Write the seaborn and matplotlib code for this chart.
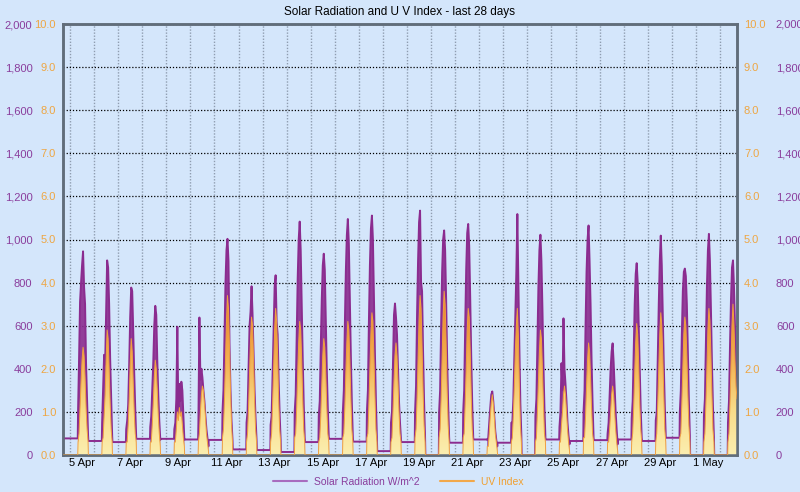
import numpy as np
import pandas as pd
import matplotlib
matplotlib.use("Agg")
import matplotlib.pyplot as plt
import matplotlib.dates as mdates
from matplotlib.colors import LinearSegmentedColormap
from matplotlib.lines import Line2D
from matplotlib.ticker import FixedLocator, FuncFormatter
import seaborn as sns

# first day with a full daylight block, one block per day (hours 08:00 .. 18:00)
first_day = "2025-04-05"
day_hours = [8, 9, 10, 11, 12, 13, 14, 15, 16, 17, 18]

# solar radiation W/m^2 per day
solar_day = [
    [200, 440, 710, 800, 880, 945, 780, 700, 420, 250, 90],
    [150, 300, 465, 420, 650, 903, 870, 700, 450, 260, 90],
    [120, 160, 234, 420, 640, 777, 760, 580, 380, 220, 80],
    [130, 180, 300, 430, 600, 692, 650, 440, 280, 160, 70],
    [120, 150, 260, 595, 200, 330, 250, 340, 300, 180, 70],
    [150, 638, 350, 400, 360, 300, 250, 180, 120, 80, 40],
    [200, 300, 550, 800, 950, 1003, 900, 518, 300, 160, 70],
    [150, 200, 400, 600, 665, 783, 650, 480, 300, 170, 70],
    [140, 180, 380, 600, 780, 834, 618, 560, 350, 190, 70],
    [200, 280, 560, 820, 1000, 1083, 950, 700, 450, 240, 80],
    [180, 250, 500, 720, 880, 934, 860, 620, 400, 220, 80],
    [200, 300, 600, 850, 1020, 1095, 980, 720, 460, 240, 80],
    [200, 300, 620, 880, 1050, 1111, 1000, 740, 470, 250, 80],
    [150, 200, 420, 650, 703, 640, 560, 400, 250, 150, 70],
    [200, 320, 650, 900, 1080, 1134, 803, 760, 480, 250, 80],
    [200, 300, 600, 850, 1000, 1042, 950, 720, 450, 240, 80],
    [200, 300, 600, 860, 1030, 1072, 970, 730, 460, 240, 80],
    [70, 80, 150, 220, 280, 295, 250, 180, 110, 70, 40],
    [150, 150, 257, 450, 626, 850, 1118, 800, 500, 240, 90],
    [180, 260, 520, 780, 950, 1022, 900, 680, 420, 220, 80],
    [130, 200, 426, 300, 634, 400, 330, 250, 150, 90, 50],
    [200, 300, 600, 850, 1000, 1065, 900, 700, 440, 240, 80],
    [100, 150, 280, 400, 480, 518, 430, 320, 200, 120, 50],
    [170, 250, 480, 700, 840, 890, 800, 600, 380, 210, 80],
    [160, 200, 450, 700, 900, 1018, 880, 650, 420, 230, 80],
    [200, 300, 560, 760, 850, 865, 830, 700, 480, 260, 90],
    [180, 260, 520, 780, 950, 1026, 900, 680, 430, 230, 80],
    [150, 250, 500, 720, 870, 903, 780, 600, 400, 255],
]

# UV index per day, same hours
uv_day = [
    [0.3, 0.5, 1.1, 1.7, 2.2, 2.5, 2.3, 1.8, 1.1, 0.6, 0.3],
    [0.3, 0.4, 0.9, 1.4, 2.2, 2.9, 2.7, 2.0, 1.2, 0.6, 0.3],
    [0.3, 0.3, 0.7, 1.3, 2.1, 2.7, 2.4, 1.7, 1.0, 0.5, 0.3],
    [0.3, 0.3, 0.7, 1.2, 1.8, 2.2, 2.0, 1.5, 0.9, 0.5, 0.2],
    [0.3, 0.3, 0.6, 1.0, 0.8, 1.1, 0.9, 1.0, 0.7, 0.4, 0.2],
    [0.3, 0.5, 1.0, 1.4, 1.6, 1.5, 1.2, 0.9, 0.5, 0.3, 0.1],
    [0.4, 0.6, 1.3, 2.2, 3.1, 3.7, 3.4, 2.5, 1.5, 0.7, 0.3],
    [0.3, 0.5, 1.1, 1.9, 2.7, 3.2, 3.0, 2.2, 1.3, 0.6, 0.3],
    [0.3, 0.5, 1.2, 2.0, 2.9, 3.4, 3.1, 2.3, 1.3, 0.6, 0.3],
    [0.4, 0.5, 1.1, 1.9, 2.6, 3.1, 2.9, 2.2, 1.3, 0.6, 0.3],
    [0.3, 0.4, 0.9, 1.6, 2.3, 2.7, 2.5, 1.9, 1.1, 0.5, 0.3],
    [0.4, 0.5, 1.1, 1.9, 2.6, 3.1, 2.9, 2.2, 1.3, 0.6, 0.3],
    [0.4, 0.5, 1.2, 2.0, 2.8, 3.3, 3.1, 2.3, 1.4, 0.6, 0.3],
    [0.3, 0.4, 1.0, 1.7, 2.3, 2.6, 2.3, 1.7, 1.0, 0.5, 0.3],
    [0.4, 0.6, 1.3, 2.2, 3.1, 3.7, 3.4, 2.5, 1.5, 0.7, 0.3],
    [0.4, 0.6, 1.3, 2.3, 3.2, 3.8, 3.5, 2.6, 1.5, 0.7, 0.3],
    [0.4, 0.5, 1.2, 2.0, 2.9, 3.4, 3.2, 2.4, 1.4, 0.6, 0.3],
    [0.2, 0.2, 0.5, 0.9, 1.2, 1.4, 1.2, 0.9, 0.5, 0.3, 0.1],
    [0.3, 0.4, 0.9, 1.6, 2.4, 3.0, 3.4, 2.8, 1.6, 0.7, 0.3],
    [0.3, 0.4, 1.0, 1.7, 2.4, 2.9, 2.7, 2.0, 1.2, 0.5, 0.3],
    [0.3, 0.3, 0.7, 1.0, 1.4, 1.6, 1.4, 1.0, 0.6, 0.3, 0.1],
    [0.4, 0.4, 0.9, 1.6, 2.2, 2.6, 2.4, 1.8, 1.1, 0.5, 0.3],
    [0.3, 0.3, 0.6, 1.0, 1.4, 1.6, 1.4, 1.0, 0.6, 0.3, 0.1],
    [0.3, 0.5, 1.1, 1.9, 2.6, 3.05, 2.8, 2.1, 1.2, 0.6, 0.3],
    [0.3, 0.5, 1.2, 2.0, 2.8, 3.3, 3.0, 2.3, 1.4, 0.6, 0.3],
    [0.4, 0.5, 1.2, 2.0, 2.8, 3.2, 3.0, 2.3, 1.4, 0.7, 0.3],
    [0.3, 0.5, 1.2, 2.0, 2.9, 3.4, 3.1, 2.3, 1.4, 0.6, 0.3],
    [0.3, 0.5, 1.2, 2.1, 3.0, 3.5, 3.0, 2.2, 1.6, 1.3],
]

# flat night-time solar level before each day (first entry = start of chart)
night_level = [77, 65, 60, 75, 75, 72, 70, 26, 23, 14, 60, 75, 62, 18,
               60, 0, 57, 72, 57, 0, 72, 65, 69, 72, 65, 80, 0, 0]

chart_start = "2025-04-04 17:00"
chart_end = "2025-05-02 17:00"
tick_labels = ["5 Apr", "7 Apr", "9 Apr", "11 Apr", "13 Apr", "15 Apr", "17 Apr",
               "19 Apr", "21 Apr", "23 Apr", "25 Apr", "27 Apr", "29 Apr", "1 May"]

# build the time series from the day blocks
times = [pd.Timestamp(chart_start)]
solar = [night_level[0]]
uv = [0.0]
day0 = pd.Timestamp(first_day)
for d in range(len(solar_day)):
    base = day0 + pd.Timedelta(days=d)
    times.append(base + pd.Timedelta(hours=7.7))
    solar.append(night_level[d])
    uv.append(0.0)
    for h, s, u in zip(day_hours, solar_day[d], uv_day[d]):
        times.append(base + pd.Timedelta(hours=h))
        solar.append(s)
        uv.append(u)
    if d + 1 < len(night_level):
        times.append(base + pd.Timedelta(hours=18.3))
        solar.append(night_level[d + 1])
        uv.append(0.0)

df = pd.DataFrame({"time": times, "solar": solar, "uv": uv})

bg = "#d4e6fb"
purple = "#8b2c8f"
purple_txt = "#8a3d9c"
orange_txt = "#eea642"

sns.set_style("white", rc={"axes.facecolor": bg, "figure.facecolor": bg})
plt.rcParams["font.family"] = ["Liberation Sans", "DejaVu Sans"]

fig = plt.figure(figsize=(8, 4.92), dpi=100)
ax = fig.add_axes([63 / 800, 1 - 455 / 492, 674 / 800, 431 / 492])
ax2 = ax.twinx()

# solar: daytime area + line
is_day = (df["uv"] > 0).to_numpy()
ax.fill_between(df["time"], 0, df["solar"], where=is_day, color=purple, alpha=0.9,
                lw=0, zorder=2)
sns.lineplot(data=df, x="time", y="solar", ax=ax, color=purple, linewidth=1.4,
             legend=False, zorder=3)

# UV: gradient-filled area
poly = ax2.fill_between(df["time"], 0, df["uv"], color="none", lw=0)
cmap = LinearSegmentedColormap.from_list(
    "uv", [(0, "#fbeeb0"), (0.25, "#f9dc88"), (0.5, "#f3b456"),
           (0.75, "#ed9232"), (1, "#e67a22")])
x0 = mdates.date2num(pd.Timestamp(chart_start))
x1 = mdates.date2num(pd.Timestamp(chart_end))
grad = np.linspace(0, 1, 256).reshape(-1, 1)
img = ax2.imshow(grad, cmap=cmap, aspect="auto", origin="lower",
                 extent=[x0, x1, 0, 4.2], zorder=2)
img.set_clip_path(poly.get_paths()[0], transform=ax2.transData)
ax2.plot(df["time"], df["uv"], color="#f0a040", lw=0.7, zorder=3)

ax.set_xlim(pd.Timestamp(chart_start), pd.Timestamp(chart_end))
ax.set_ylim(0, 2000)
ax2.set_ylim(0, 10)
ax.set_xlabel("")
ax.set_ylabel("")

# x axis: daily grid at midnight, labels at noon every second day
ax.xaxis.set_major_locator(mdates.DayLocator())
label_pos = [mdates.date2num(day0 + pd.Timedelta(days=2 * i, hours=12))
             for i in range(len(tick_labels))]
ax.set_xticks(label_pos, minor=True)
ax.set_xticklabels(tick_labels, minor=True)
ax.tick_params(axis="x", which="major", length=0, labelbottom=False)
ax.tick_params(axis="x", which="minor", length=0, pad=2, labelsize=8, labelcolor="black")

ax.grid(axis="x", which="major", color="#8f9db0", linestyle=(0, (1, 1.2)), lw=1)
ax.grid(axis="y", color="black", linestyle=(0, (1, 1.5)), lw=0.9)
ax.set_axisbelow(True)

ax.set_yticks(np.arange(0, 2001, 200))
ax.yaxis.set_major_formatter(FuncFormatter(lambda v, p: f"{v:,.0f}"))
ax.tick_params(axis="y", length=0, pad=22, labelsize=8, labelcolor=purple_txt)
ax2.set_yticks(np.arange(0, 10.1, 1))
ax2.yaxis.set_major_formatter(FuncFormatter(lambda v, p: f"{v:.1f}"))
ax2.tick_params(axis="y", length=0, pad=5, labelsize=8, labelcolor=orange_txt)

# extra label columns: UV on the left, solar on the right
uv_left = ax.secondary_yaxis("left", functions=(lambda w: w / 200, lambda u: u * 200))
uv_left.set_yticks(np.arange(0, 10.1, 1))
uv_left.yaxis.set_major_formatter(FuncFormatter(lambda v, p: f"{v:.1f}"))
uv_left.tick_params(axis="y", length=0, pad=5, labelsize=8, labelcolor=orange_txt)
uv_left.spines["left"].set_visible(False)

sol_right = ax2.secondary_yaxis("right", functions=(lambda u: u * 200, lambda w: w / 200))
sol_right.set_yticks(np.arange(0, 2001, 200))
sol_right.yaxis.set_major_formatter(FuncFormatter(lambda v, p: f"{v:,.0f}"))
sol_right.tick_params(axis="y", length=0, pad=28, labelsize=8, labelcolor=purple_txt)
sol_right.spines["right"].set_visible(False)

for a in (ax, ax2):
    for s in a.spines.values():
        s.set_color("#616d7a")
        s.set_linewidth(1.8)

fig.text(0.5, 1 - 12 / 492, "Solar Radiation and U V Index - last 28 days",
         ha="center", va="center", fontsize=8.5, color="black")

handles = [Line2D([], [], color="#a86cbf", lw=1.5),
           Line2D([], [], color="#f2a84a", lw=1.5)]
leg = fig.legend(handles, ["Solar Radiation W/m^2", "UV Index"], loc="center",
                 bbox_to_anchor=(0.498, 1 - 482 / 492), ncol=2, frameon=False,
                 fontsize=7.5, handlelength=3.2, columnspacing=2.0, handletextpad=0.7)
for t, c in zip(leg.get_texts(), [purple_txt, "#f0a030"]):
    t.set_color(c)

fig.savefig("out.png", dpi=100, facecolor=bg)
